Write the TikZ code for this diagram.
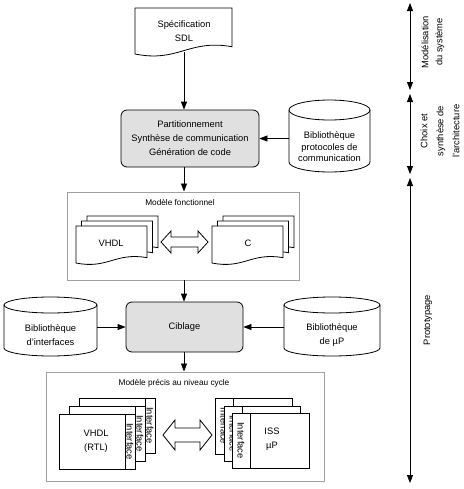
\documentclass[tikz,border=0pt]{standalone}
\usepackage{fontspec}
\setmainfont{Liberation Sans}
\usetikzlibrary{arrows.meta,calc}
\definecolor{boxgray}{HTML}{E0E0E0}
\definecolor{framegray}{HTML}{A0A0A0}
% document shape: L T R B(left bottom corner)
\newcommand\docshape[4]{%
  \pgfmathsetmacro\mydw{#3-#1}%
  \filldraw[fill=white] (#1,#2) -- (#3,#2) -- (#3,{#4-0.075*\mydw})
    .. controls ({#3-0.45*\mydw},{#4-0.155*\mydw}) and ({#1+0.45*\mydw},{#4+0.09*\mydw}) .. (#1,#4) -- cycle;}
% cylinder: L T R B ry
\newcommand\cylshape[5]{%
  \pgfmathsetmacro\cyC{(#1+#3)/2}%
  \pgfmathsetmacro\cyx{(#3-#1)/2}%
  \pgfmathsetmacro\cyk{0.5523*\cyx}%
  \pgfmathsetmacro\cyky{0.5523*#5}%
  \filldraw[fill=white] (#1,{#2+#5}) -- (#1,{#4-#5})
    .. controls (#1,{#4-#5+\cyky}) and ({\cyC-\cyk},#4) .. (\cyC,#4)
    .. controls ({\cyC+\cyk},#4) and (#3,{#4-#5+\cyky}) .. (#3,{#4-#5})
    -- (#3,{#2+#5})
    .. controls (#3,{#2+#5-\cyky}) and ({\cyC+\cyk},#2) .. (\cyC,#2)
    .. controls ({\cyC-\cyk},#2) and (#1,{#2+#5-\cyky}) .. (#1,{#2+#5}) -- cycle;
  \draw (#1,{#2+#5})
    .. controls (#1,{#2+#5+\cyky}) and ({\cyC-\cyk},{#2+2*#5}) .. (\cyC,{#2+2*#5})
    .. controls ({\cyC+\cyk},{#2+2*#5}) and (#3,{#2+#5+\cyky}) .. (#3,{#2+#5});}
% double arrow: x1 x2 cy headhalf shafthalf headlen
\newcommand\dblarrow[6]{%
  \filldraw[fill=white] (#1,#3) -- ({#1+#6},{#3-#4}) -- ({#1+#6},{#3-#5}) -- ({#2-#6},{#3-#5})
    -- ({#2-#6},{#3-#4}) -- (#2,#3) -- ({#2-#6},{#3+#4}) -- ({#2-#6},{#3+#5})
    -- ({#1+#6},{#3+#5}) -- ({#1+#6},{#3+#4}) -- cycle;}
\begin{document}
\begin{tikzpicture}[x=0.75pt,y=-0.75pt,
  line width=0.6pt,
  font=\fontsize{7}{10.5}\selectfont,
  >={Triangle[length=6pt,width=4.5pt]},
  lbl/.style={inner sep=0, align=center},
  procbox/.style={draw, rounded corners=4.5pt, fill=boxgray, align=center, inner sep=0},
  framebox/.style={draw=framegray, line width=0.7pt, inner sep=0},
  conn/.style={->},
  small/.style={inner sep=0, font=\fontsize{6.2}{7.5}\selectfont},
  striptext/.style={inner sep=0, rotate=-90}]
\useasboundingbox (0,0) rectangle (464,489);

% ---------- specification document
\docshape{135}{8}{232}{54}
\node[lbl, minimum width=72.75pt, minimum height=30pt] (spec) at (184,31.5) {Spécification\\SDL};

% ---------- partitioning box
\node[procbox, minimum width=103.5pt, minimum height=42.75pt] (part) at (190,138.5)
  {Partitionnement\\Synthèse de communication\\Génération de code};

% ---------- protocol library
\cylshape{289}{100}{370}{172}{10}
\node[lbl, minimum width=60.75pt, font=\fontsize{7}{8.6}\selectfont] (proto) at (329.5,147)
  {Bibliothèque\\protocoles de\\communication};

% ---------- functional model frame
\node[framebox, minimum width=174pt, minimum height=66pt] (func) at (183,236) {};
\node[small] (funclbl) at (180,202) {Modèle fonctionnel};
\docshape{87}{216}{158}{253}
\docshape{81.5}{221}{152.5}{258}
\docshape{76}{226}{147}{263}
\node[lbl] (vhdl) at (111,243) {VHDL};
\docshape{223}{216}{294}{253}
\docshape{217.5}{221}{288.5}{258}
\docshape{212}{226}{283}{263}
\node[lbl] (cdoc) at (248,243) {C};
\dblarrow{161}{208}{242}{11}{5}{10}

% ---------- targeting
\node[procbox, minimum width=87.75pt, minimum height=37.5pt] (cib) at (184.5,327) {Ciblage};
\cylshape{4}{297}{97}{356}{8}
\node[lbl, minimum width=69.75pt] (ifl) at (50.5,335) {Bibliothèque\\d'interfaces};
\cylshape{284}{297}{380}{356}{8}
\node[lbl, minimum width=72pt] (mup) at (332,335) {Bibliothèque\\de µP};

% ---------- cycle accurate model frame
\node[framebox, minimum width=208.5pt, minimum height=81.75pt] (cyc) at (185,426.5) {};
\node[small] (cyclbl) at (174,383) {Modèle précis au niveau cycle};

% left stack (strip on the right)
\filldraw[fill=white] (79,398) rectangle (155,453);
\draw (145,398) -- (145,453);
\node[striptext] (ifa) at (150,425.5) {Interface};
\filldraw[fill=white] (69,406) rectangle (145,461);
\draw (135,406) -- (135,461);
\node[striptext] (ifb) at (140,433.5) {Interface};
\filldraw[fill=white] (59,414) rectangle (135,469);
\draw (125,414) -- (125,469);
\node[striptext] (ifc) at (130,441.5) {Interface};
\node[lbl] (rtl) at (96,441) {VHDL\\(RTL)};

% right stack (strip on the left)
\filldraw[fill=white] (215,398) rectangle (292,454);
\draw (233,398) -- (233,454);
\node[striptext] (ifd) at (224,426) {Interface};
\filldraw[fill=white] (224,406) rectangle (300,461);
\draw (242,406) -- (242,461);
\node[striptext] (ife) at (233,433.5) {Interface};
\filldraw[fill=white] (232,413) rectangle (309,468);
\draw (250,413) -- (250,468);
\node[striptext] (iff) at (241,440.5) {Interface};
\node[lbl] (iss) at (272,439) {ISS\\µP};

\dblarrow{163}{212}{435}{15}{7}{12}

% ---------- connectors
\draw[conn] (spec.south) -- (spec.south |- part.north);
\draw[conn] (proto.west |- part.east) -- (part.east);
\draw[conn] (spec.south |- part.south) -- (spec.south |- func.north);
\draw[conn] (spec.south |- func.south) -- (spec.south |- cib.north);
\draw[conn] (ifl.east |- cib.west) -- (cib.west);
\draw[conn] (mup.west |- cib.east) -- (cib.east);
\draw[conn] (spec.south |- cib.south) -- (spec.south |- cyc.north);

% ---------- time line
\coordinate (t0) at (410,3);
\coordinate (t1a) at (410,90);
\coordinate (t1b) at (410,94);
\coordinate (t2a) at (410,174);
\coordinate (t2b) at (410,178);
\coordinate (t3) at (410,483);
\draw[<->] (t0) -- (t1a);
\draw[<->] (t1b) -- (t2a);
\draw[<->] (t2b) -- (t3);
\node[lbl, rotate=90, font=\fontsize{7}{10.5}\selectfont] (lmod) at (433,42) {Modélisation\\du système};
\node[lbl, rotate=90, font=\fontsize{7}{12}\selectfont] (lchoix) at (440,131) {Choix et\\synthèse de\\l'architecture};
\node[lbl, rotate=90] (lproto) at (428,320) {Prototypage};
\end{tikzpicture}
\end{document}
